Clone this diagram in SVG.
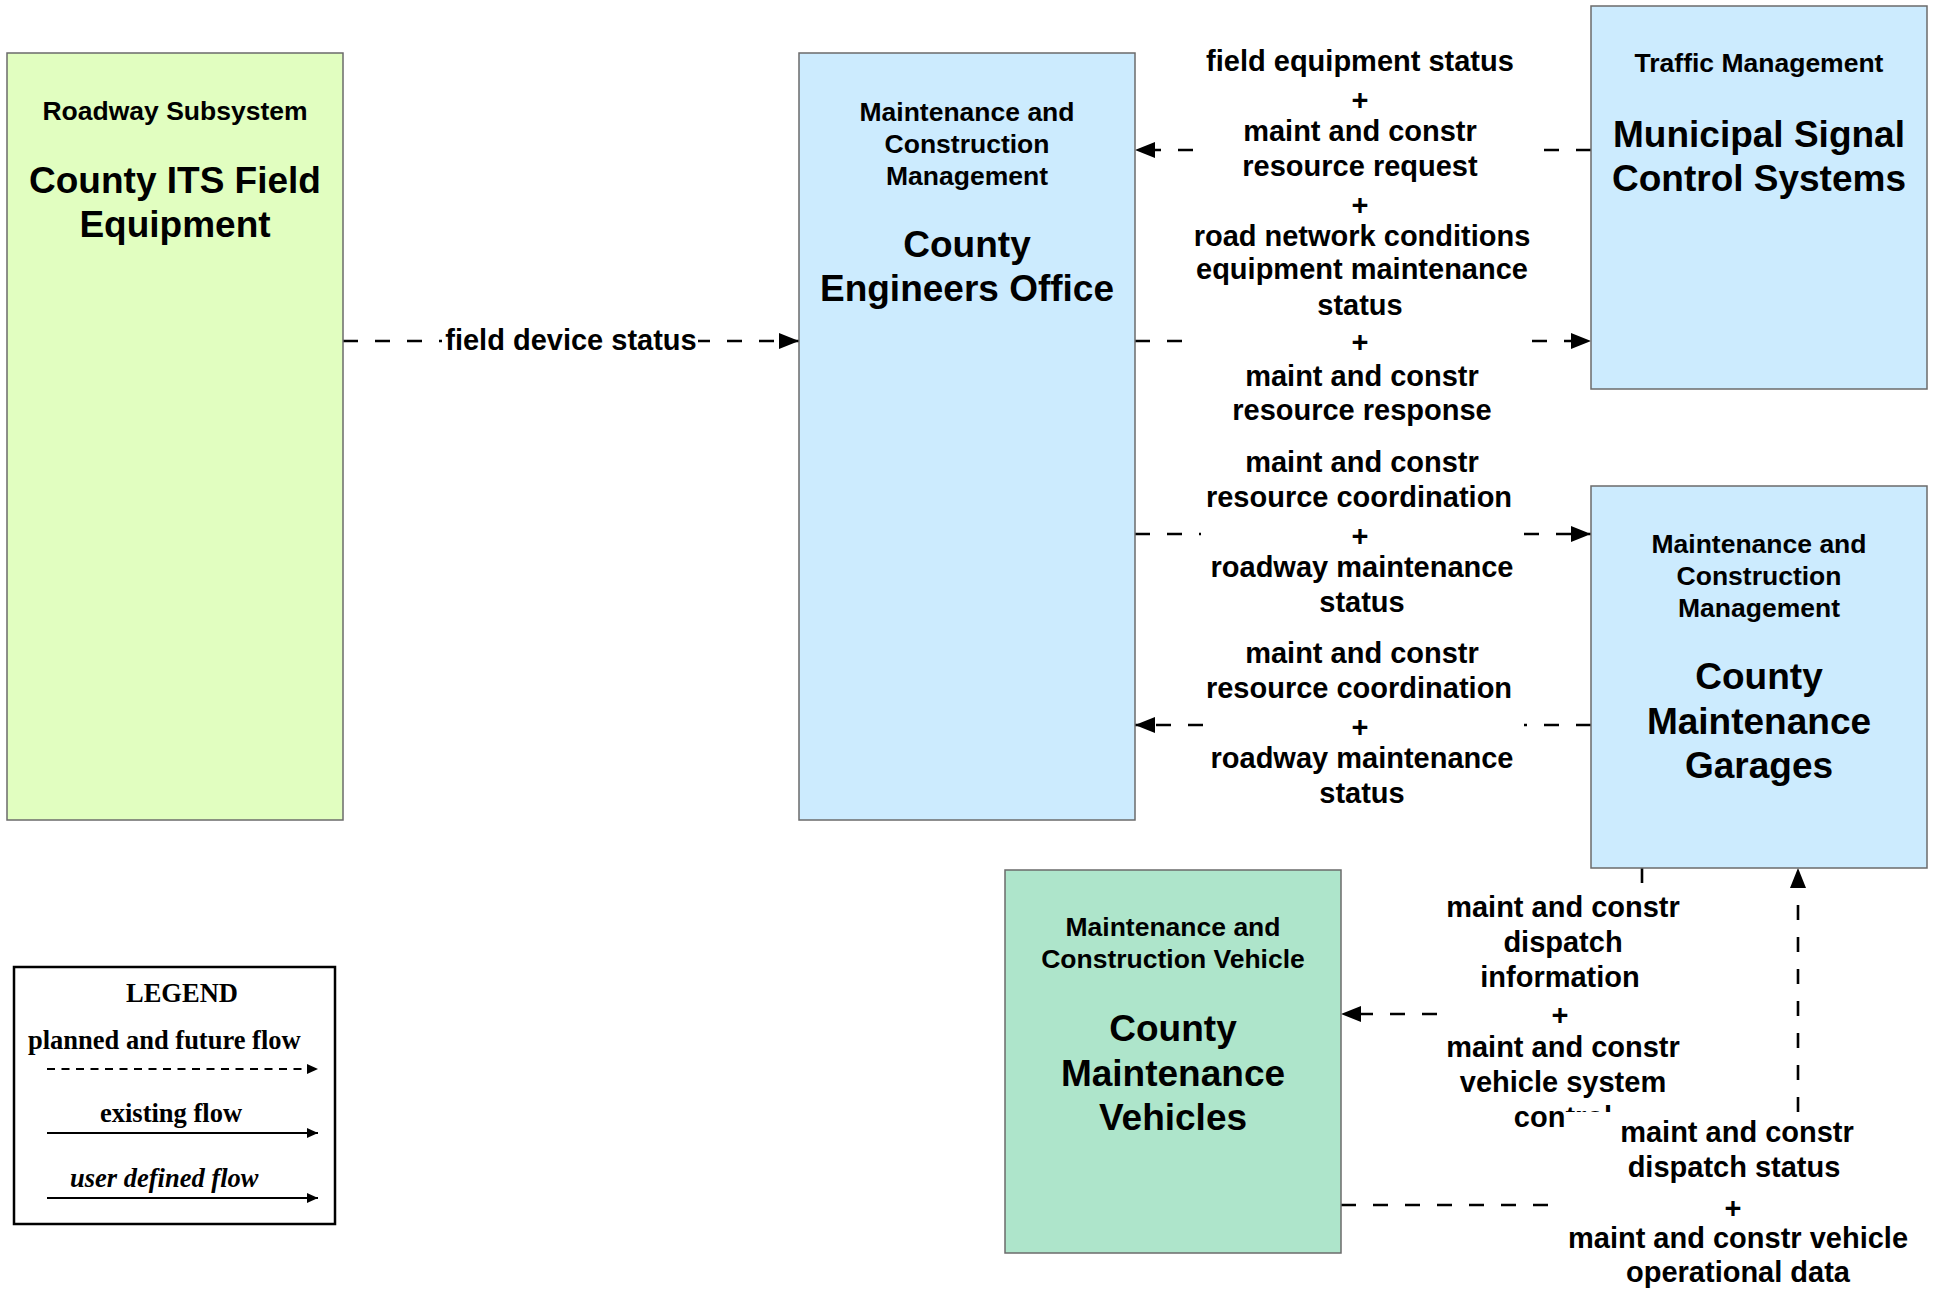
<svg xmlns="http://www.w3.org/2000/svg" width="1937" height="1289" viewBox="0 0 1937 1289">
<defs>
<style>
.box{stroke:#6b6b6b;stroke-width:1.5}
.green{fill:#E1FEC0}
.blue{fill:#CCEBFE}
.mint{fill:#AEE5CB}
text{font-family:"Liberation Sans",Arial,sans-serif;font-weight:bold;fill:#000;text-anchor:middle}
.sub{font-size:26.5px}
.title{font-size:37px}
.lbl{font-size:29px}
.flow{fill:none;stroke:#000;stroke-width:2.6;stroke-dasharray:15 17}
.leg{font-family:"Liberation Serif","Times New Roman",serif;font-size:26.5px;text-anchor:start}
.lline{fill:none;stroke:#000;stroke-width:2}
</style>
<marker id="arr" markerUnits="userSpaceOnUse" markerWidth="20" markerHeight="16" refX="20" refY="8" orient="auto">
<path d="M0,0 L20,8 L0,16 z" fill="#000"/>
</marker>
<marker id="larr" markerUnits="userSpaceOnUse" markerWidth="11" markerHeight="10" refX="11" refY="5" orient="auto">
<path d="M0,0 L11,5 L0,10 z" fill="#000"/>
</marker>
</defs>
<rect width="1937" height="1289" fill="#fff"/>

<g id="connectors">
<path class="flow" d="M343,341 H799" marker-end="url(#arr)"/>
<path class="flow" d="M1591,150 H1540"/>
<path class="flow" d="M1193,150 H1135" marker-end="url(#arr)"/>
<path class="flow" d="M1135,341 H1187"/>
<path class="flow" d="M1532,341 H1591" marker-end="url(#arr)"/>
<path class="flow" d="M1135,534 H1201"/>
<path class="flow" d="M1524,534 H1591" marker-end="url(#arr)"/>
<path class="flow" d="M1591,725 H1524"/>
<path class="flow" d="M1203,725 H1135" marker-end="url(#arr)"/>
<path class="flow" d="M1642,868 V889"/>
<path class="flow" d="M1437,1014 H1341" marker-end="url(#arr)"/>
<path class="flow" d="M1341,1205 H1564"/>
<path class="flow" d="M1798,1112 V868" marker-end="url(#arr)"/>
</g>

<g id="roadway">
<rect class="box green" x="7" y="53" width="336" height="767"/>
<text class="sub" x="175" y="120">Roadway Subsystem</text>
<text class="title" x="175" y="193">County ITS Field</text>
<text class="title" x="175" y="237">Equipment</text>
</g>

<g id="engineers">
<rect class="box blue" x="799" y="53" width="336" height="767"/>
<text class="sub" x="967" y="121">Maintenance and</text>
<text class="sub" x="967" y="153">Construction</text>
<text class="sub" x="967" y="185">Management</text>
<text class="title" x="967" y="257">County</text>
<text class="title" x="967" y="301">Engineers Office</text>
</g>

<g id="municipal">
<rect class="box blue" x="1591" y="6" width="336" height="383"/>
<text class="sub" x="1759" y="72">Traffic Management</text>
<text class="title" x="1759" y="146.5">Municipal Signal</text>
<text class="title" x="1759" y="191">Control Systems</text>
</g>

<g id="garages">
<rect class="box blue" x="1591" y="486" width="336" height="382"/>
<text class="sub" x="1759" y="553">Maintenance and</text>
<text class="sub" x="1759" y="585">Construction</text>
<text class="sub" x="1759" y="617">Management</text>
<text class="title" x="1759" y="689">County</text>
<text class="title" x="1759" y="733.5">Maintenance</text>
<text class="title" x="1759" y="778">Garages</text>
</g>

<g id="vehicles">
<rect class="box mint" x="1005" y="870" width="336" height="383"/>
<text class="sub" x="1173" y="936">Maintenance and</text>
<text class="sub" x="1173" y="968">Construction Vehicle</text>
<text class="title" x="1173" y="1041">County</text>
<text class="title" x="1173" y="1085.5">Maintenance</text>
<text class="title" x="1173" y="1130">Vehicles</text>
</g>

<g id="labels">
<rect x="442" y="326" width="256" height="30" fill="#fff"/>
<text class="lbl" x="571" y="350">field device status</text>

<text class="lbl" x="1360" y="71">field equipment status</text>
<text class="lbl" x="1360" y="110">+</text>
<text class="lbl" x="1360" y="141">maint and constr</text>
<text class="lbl" x="1360" y="176">resource request</text>
<text class="lbl" x="1360" y="215">+</text>
<text class="lbl" x="1362" y="246">road network conditions</text>

<text class="lbl" x="1362" y="279">equipment maintenance</text>
<text class="lbl" x="1360" y="315">status</text>
<text class="lbl" x="1360" y="352">+</text>
<text class="lbl" x="1362" y="386">maint and constr</text>
<text class="lbl" x="1362" y="420">resource response</text>

<text class="lbl" x="1362" y="472">maint and constr</text>
<text class="lbl" x="1359" y="507">resource coordination</text>
<text class="lbl" x="1360" y="546">+</text>
<text class="lbl" x="1362" y="577">roadway maintenance</text>
<text class="lbl" x="1362" y="612">status</text>

<text class="lbl" x="1362" y="663">maint and constr</text>
<text class="lbl" x="1359" y="698">resource coordination</text>
<text class="lbl" x="1360" y="737">+</text>
<text class="lbl" x="1362" y="768">roadway maintenance</text>
<text class="lbl" x="1362" y="803">status</text>

<text class="lbl" x="1563" y="917">maint and constr</text>
<text class="lbl" x="1563" y="952">dispatch</text>
<text class="lbl" x="1560" y="987">information</text>
<text class="lbl" x="1560" y="1025">+</text>
<text class="lbl" x="1563" y="1057">maint and constr</text>
<text class="lbl" x="1563" y="1092">vehicle system</text>
<text class="lbl" x="1563" y="1127">control</text>

<rect x="1565" y="1112" width="350" height="40" fill="#fff"/>
<text class="lbl" x="1737" y="1142">maint and constr</text>
<text class="lbl" x="1734" y="1177">dispatch status</text>
<text class="lbl" x="1733" y="1218">+</text>
<text class="lbl" x="1738" y="1248">maint and constr vehicle</text>
<text class="lbl" x="1738" y="1282">operational data</text>
</g>

<g id="legend">
<rect x="14" y="967" width="321" height="257" fill="#fff" stroke="#000" stroke-width="2.5"/>
<text class="leg" x="126" y="1002">LEGEND</text>
<text class="leg" x="28" y="1049">planned and future flow</text>
<path class="lline" d="M47,1069 H318" stroke-dasharray="8 6.5" marker-end="url(#larr)"/>
<text class="leg" x="100" y="1122">existing flow</text>
<path class="lline" d="M47,1133 H318" marker-end="url(#larr)"/>
<text class="leg" x="70" y="1187" font-style="italic">user defined flow</text>
<path class="lline" d="M47,1198 H318" marker-end="url(#larr)"/>
</g>
</svg>
